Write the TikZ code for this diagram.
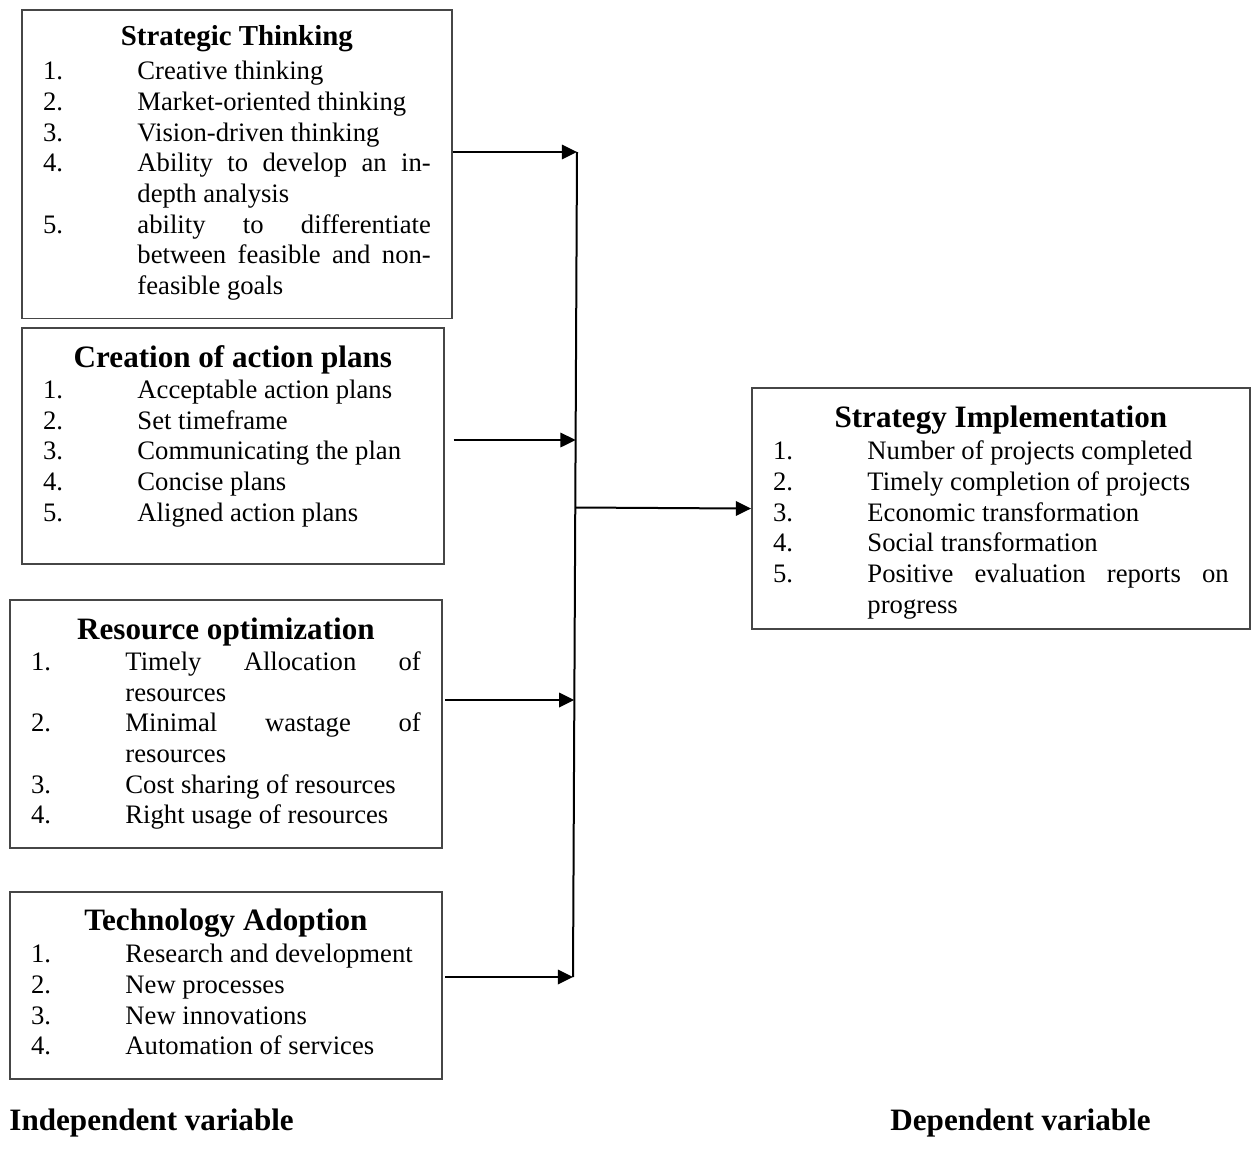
\documentclass[tikz,border=0pt]{standalone}
\usepackage{fontspec}
\setmainfont{Liberation Serif}
\usepackage{xcolor}
\usepackage{tikz}
\usetikzlibrary{arrows.meta,positioning}
\definecolor{boxline}{RGB}{70,70,70}
\newcommand{\vtitle}[3]{{\noindent\centering\bfseries\fontsize{#1}{#1}\selectfont\rule{0pt}{#2}#3\par}}
\newcommand{\vitem}[2]{\noindent\hangindent=42.5pt\hangafter=1\makebox[42.5pt][l]{#1}#2\par}
\newcommand{\padbelow}[1]{\rule[-#1]{0pt}{#1}}
\hbadness=10000

\begin{document}
\begin{tikzpicture}[x=0.45pt,y=-0.45pt,
  varbox/.style={draw=boxline, line width=0.8pt, anchor=north west, inner xsep=9.5pt, inner ysep=0pt, align=justify, font=\fontsize{12}{13.8}\selectfont},
  link/.style={line width=0.9pt, -{Triangle[length=6.8pt,width=6.5pt]}},
  bus/.style={line width=0.9pt},
  side/.style={anchor=base west, inner sep=0pt, font=\bfseries\fontsize{14}{16}\selectfont}]
\useasboundingbox (0,0) rectangle (1253,1163);
% independent variables
\node[varbox, text width=174.5pt] (think) at (21,9) {%
  \vtitle{13}{16.2pt}{Strategic Thinking}\vspace{1.5pt}
  \vitem{1.}{Creative thinking}
  \vitem{2.}{Market-oriented thinking}
  \vitem{3.}{Vision-driven thinking}
  \vitem{4.}{Ability to develop an in-\linebreak depth analysis}
  \vitem{5.}{ability to differentiate\linebreak between feasible and non-\linebreak feasible goals\padbelow{10.8pt}}};
\node[varbox, text width=170.9pt] (plans) at (21,327) {%
  \vtitle{14}{18pt}{Creation of action plans}
  \vitem{1.}{Acceptable action plans}
  \vitem{2.}{Set timeframe}
  \vitem{3.}{Communicating the plan}
  \vitem{4.}{Concise plans}
  \vitem{5.}{Aligned action plans\padbelow{19.3pt}}};
\node[varbox, text width=175.4pt] (resopt) at (9,599) {%
  \vtitle{14}{18pt}{Resource optimization}
  \vitem{1.}{Timely Allocation of\linebreak resources}
  \vitem{2.}{Minimal wastage of\linebreak resources}
  \vitem{3.}{Cost sharing of resources}
  \vitem{4.}{Right usage of resources\padbelow{10.8pt}}};
\node[varbox, text width=175.4pt] (tech) at (9,891) {%
  \vtitle{14}{17.5pt}{Technology Adoption}\vspace{0.6pt}
  \vitem{1.}{Research and development}
  \vitem{2.}{New processes}
  \vitem{3.}{New innovations}
  \vitem{4.}{Automation of services\padbelow{10.8pt}}};
% dependent variable
\node[varbox, text width=205.1pt] (impl) at (751,387) {%
  \vtitle{14}{18pt}{Strategy Implementation}\vspace{0.6pt}
  \vitem{1.}{Number of projects completed}
  \vitem{2.}{Timely completion of projects}
  \vitem{3.}{Economic transformation}
  \vitem{4.}{Social transformation}
  \vitem{5.}{Positive evaluation reports on\linebreak progress\padbelow{7.2pt}}};
% joining line
\coordinate (j1) at (577,152);
\coordinate (j2) at (575.6,440);
\coordinate (jo) at (575.3,507.5);
\coordinate (j3) at (574.3,700);
\coordinate (j4) at (573,977);
\draw[bus] (j1) -- (j4);
\draw[link] (think.east |- j1) -- (j1);
\draw[link, shorten <=4pt] (plans.east |- j2) -- (j2);
\draw[link, shorten <=1pt] (resopt.east |- j3) -- (j3);
\draw[link, shorten <=1pt] (tech.east |- j4) -- (j4);
\draw[link] (jo) -- (impl.west);
% captions
\node[side] (indep) at (9,1130) {Independent variable};
\node[side] (dep) at (890,1130) {Dependent variable};
\end{tikzpicture}
\end{document}
